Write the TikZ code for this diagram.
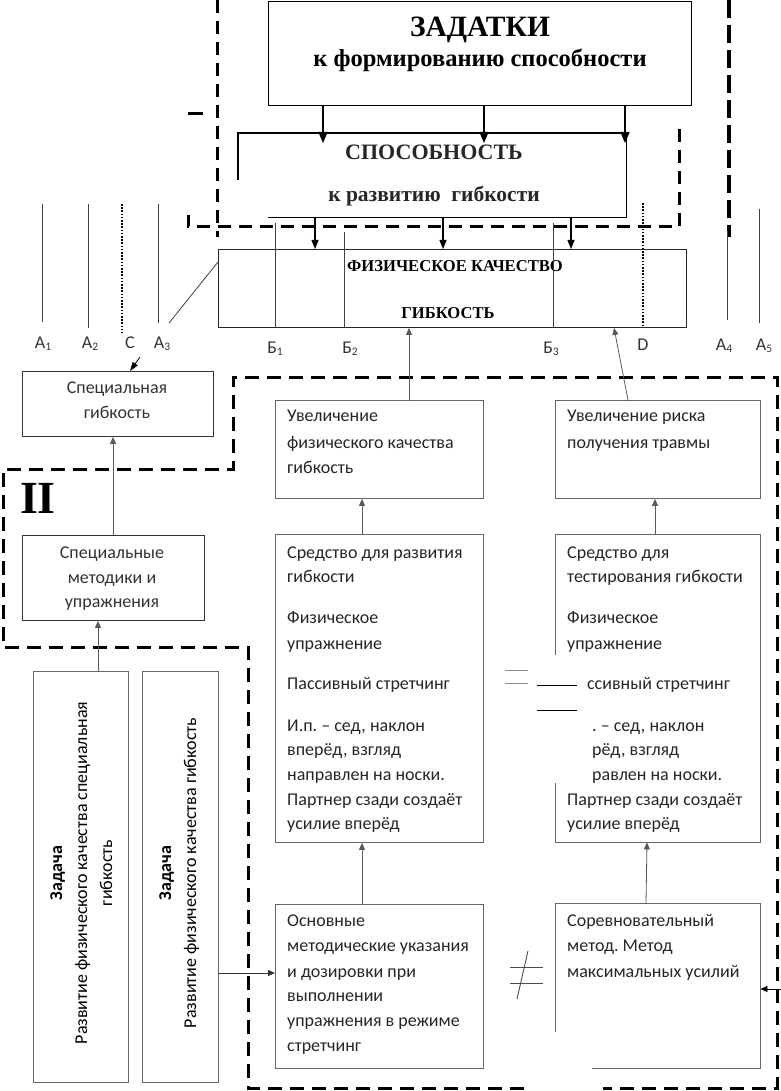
\documentclass[tikz,border=0pt]{standalone}
\usepackage{fontspec}
\setmainfont{Carlito}
\newfontfamily\tnr{Liberation Serif}
\usetikzlibrary{arrows.meta}
\frenchspacing
\newcommand\Ln[4]{\node[txt,anchor=base west] (#1) at (#2,#3) {#4};}
\newcommand\sbs[1]{\raisebox{-2.5pt}{\fontsize{11.5}{12}\selectfont #1}}
\begin{document}
\begin{tikzpicture}[x=1pt,y=-1pt,
 box/.style={draw=black!60, line width=0.9pt, inner sep=0pt},
 tbox/.style={draw=black, line width=1.3pt, inner sep=0pt},
 txt/.style={inner sep=0pt, font=\fontsize{18}{21}\selectfont\frenchspacing, text=black!85},
 lbl/.style={inner sep=0pt, anchor=base, font=\fontsize{18}{21}\selectfont, text=black!80},
 bigdash/.style={line width=3pt, dash pattern=on 13pt off 8pt},
 dots/.style={line width=2pt, dash pattern=on 1.6pt off 1.6pt},
 thinl/.style={draw=black!75, line width=0.8pt},
 arr/.style={-{Triangle[length=7pt,width=6pt]}, draw=black!65, line width=0.8pt},
 barr/.style={-{Triangle[length=11pt,width=9pt]}, line width=1.3pt},
 marr/.style={-{Triangle[length=9pt,width=7pt]}, line width=1.1pt},
]
\useasboundingbox (0,0) rectangle (780,1091);

% ---------- dashed region I ----------
\draw[bigdash] (217,0) -- (217,237);
\draw[bigdash] (188,215) -- (188,227) -- (679,227) -- (679,128);
\draw[line width=3pt] (188,114) -- (203,114);
\draw[line width=4pt, dash pattern=on 18pt off 7pt] (729,0) -- (729,237);

% ---------- dashed region II ----------
\draw[line width=3pt, dash pattern=on 14pt off 8pt]
  (524,1088) -- (248,1088) -- (248,647) -- (3,647) -- (3,469) -- (233,469)
  -- (233,377) -- (777,377) -- (777,1088) -- (603,1088);

% ---------- top boxes ----------
\node[tbox, anchor=north west, minimum width=423pt, minimum height=104pt] (zad) at (268,1) {};
\node[anchor=north west, minimum width=388pt, minimum height=84pt, inner sep=0pt] (spos) at (238,133) {};
\draw[line width=1.1pt] (238,180) -- (spos.north west) -- (spos.north east) -- (spos.south east) -- (268,0 |- spos.south);
\node[box, draw=black!85, anchor=north west, minimum width=468pt, minimum height=78pt] (fiz) at (218,249) {};

\node[inner sep=0pt, anchor=base, font=\tnr\bfseries\fontsize{29.5}{30}\selectfont] (zt1) at (480,37) {ЗАДАТКИ};
\node[inner sep=0pt, anchor=base, font=\tnr\bfseries\fontsize{24.5}{26}\selectfont] (zt2) at (480,67) {к формированию способности};
\node[inner sep=0pt, anchor=base, font=\tnr\bfseries\fontsize{22}{24}\selectfont, text=black!85] (st1) at (434,160) {СПОСОБНОСТЬ};
\node[inner sep=0pt, anchor=base, font=\tnr\bfseries\fontsize{21.5}{24}\selectfont, text=black!85] (st2) at (434,202) {к развитию\ \ гибкости};
\node[inner sep=0pt, anchor=base, font=\tnr\bfseries\fontsize{16.6}{18}\selectfont] (ft1) at (455,271) {ФИЗИЧЕСКОЕ КАЧЕСТВО};
\node[inner sep=0pt, anchor=base, font=\tnr\bfseries\fontsize{16.6}{18}\selectfont] (ft2) at (448,318) {ГИБКОСТЬ};

% arrows top
\foreach \x in {323,484,625}
  \draw[barr, shorten >=-10pt] (\x,0 |- zad.south) -- (\x,0 |- spos.north);
\foreach \x in {315,443,571}
  \draw[marr] (\x,0 |- spos.south) -- (\x,0 |- fiz.north);

% ---------- vertical marker lines ----------
\draw[thinl] (42,204) -- (42,322);
\draw[thinl] (88,204) -- (88,328);
\draw[dots] (122,204) -- (122,333);
\draw[thinl] (158,204) -- (158,323);
\draw[thinl] (727,231) -- (727,320);
\draw[thinl] (759,209) -- (759,323);
\draw[thinl] (275,223) -- (275,0 |- fiz.south);
\draw[thinl] (344,232) -- (344,0 |- fiz.south);
\draw[thinl] (553,223) -- (553,0 |- fiz.south);
\draw[dots] (643,203) -- (643,327);
\draw[thinl] (fiz.west |- 0,262) -- (169,323);

\node[lbl] (la1) at (43,348) {A\sbs{1}};
\node[lbl] (la2) at (90,348) {A\sbs{2}};
\node[lbl] (lc) at (130,348) {C};
\node[lbl] (la3) at (162,348) {A\sbs{3}};
\node[lbl] (lb1) at (275,353) {Б\sbs{1}};
\node[lbl] (lb2) at (350,353) {Б\sbs{2}};
\node[lbl] (lb3) at (551,353) {Б\sbs{3}};
\node[lbl] (ld) at (643,350) {D};
\node[lbl] (la4) at (724,350) {A\sbs{4}};
\node[lbl] (la5) at (764,350) {A\sbs{5}};

% ---------- left column ----------
\node[box, draw=black!80, anchor=north west, minimum width=191pt, minimum height=65pt] (spg) at (22,371) {};
\node[box, draw=black!80, anchor=north west, minimum width=182pt, minimum height=85pt] (spm) at (22,535) {};
\node[box, anchor=north west, minimum width=95pt, minimum height=411pt] (task1) at (33,671) {};
\node[box, anchor=north west, minimum width=76pt, minimum height=411pt] (task2) at (142,671) {};

\coordinate (cstart) at (140,357);
\draw[arr, -{Triangle[length=9pt,width=6pt]}, draw=black] (cstart) -- (130,0 |- spg.north);
\draw[arr] (113,0 |- spm.north) -- (113,0 |- spg.south);
\draw[arr] (98,0 |- task1.north) -- (98,0 |- spm.south);
\draw[arr, draw=black!80] (task2.east |- 0,973) -- (275,973);

\node[lbl] (sg1) at (117,393) {Специальная};
\node[lbl] (sg2) at (117,418) {гибкость};
\node[lbl] (sm1) at (112,558) {Специальные};
\node[lbl] (sm2) at (112,583) {методики и};
\node[lbl] (sm3) at (112,607) {упражнения};

\node[inner sep=0pt, anchor=base, rotate=90, font=\fontsize{18}{21}\selectfont\bfseries] (t1a) at (62,873) {Задача};
\node[inner sep=0pt, anchor=base, rotate=90, font=\fontsize{18}{21}\selectfont] (t1b) at (87,873) {Развитие физического качества специальная};
\node[inner sep=0pt, anchor=base, rotate=90, font=\fontsize{18}{21}\selectfont] (t1c) at (112,873) {гибкость};
\node[inner sep=0pt, anchor=base, rotate=90, font=\fontsize{18}{21}\selectfont\bfseries] (t2a) at (171,873) {Задача};
\node[inner sep=0pt, anchor=base, rotate=90, font=\fontsize{18}{21}\selectfont] (t2b) at (196,873) {Развитие физического качества гибкость};

\node[inner sep=0pt, anchor=base, font=\tnr\bfseries\fontsize{46}{46}\selectfont] (two) at (38,513) {II};

% ---------- middle / right columns ----------
\node[box, anchor=north west, minimum width=208pt, minimum height=98pt] (uv1) at (275,400) {};
\node[box, anchor=north west, minimum width=205pt, minimum height=98pt] (uv2) at (555,400) {};
\node[box, anchor=north west, minimum width=208pt, minimum height=308pt] (sr1) at (275,534) {};
\node[anchor=north west, minimum width=205pt, minimum height=308pt, inner sep=0pt] (sr2) at (555,534) {};
\draw[draw=black!60, line width=0.9pt] (555,655) -- (sr2.north west) -- (sr2.north east) -- (sr2.south east) -- (sr2.south west) -- (555,783);
\node[box, anchor=north west, minimum width=208pt, minimum height=164pt] (os) at (275,904) {};
\node[anchor=north west, minimum width=205pt, minimum height=165pt, inner sep=0pt] (sor) at (555,903) {};
\draw[draw=black!60, line width=0.9pt] (555,1032) -- (sor.north west) -- (sor.north east) -- (sor.south east) -- (592,0 |- sor.south);

\draw[arr] (409,0 |- uv1.north) -- (409,0 |- fiz.south);
\draw[arr] (628,0 |- uv2.north) -- (614,0 |- fiz.south);
\draw[arr] (362,0 |- sr1.north) -- (362,0 |- uv1.south);
\draw[arr] (655,0 |- sr2.north) -- (655,0 |- uv2.south);
\draw[arr] (362,0 |- os.north) -- (362,0 |- sr1.south);
\draw[arr] (646,0 |- sor.north) -- (647,0 |- sr2.south);
\coordinate (redge) at (781,989);
\draw[arr, draw=black] (redge) -- (sor.east |- redge);

% not-equal sign and stray strokes
\draw[draw=black!70, line width=0.9pt] (510,967) -- (543,967);
\draw[draw=black!70, line width=0.9pt] (510,983) -- (543,983);
\draw[draw=black!70, line width=0.9pt] (528,951) -- (517,999);
\draw[draw=black!45, line width=1pt] (505,670) -- (528,670);
\draw[draw=black!45, line width=1pt] (505,683) -- (528,683);
\draw[line width=1pt] (537,685) -- (577,685);
\draw[line width=1pt] (537,710) -- (577,710);

% texts
\Ln{u11}{287}{421}{Увеличение}
\Ln{u12}{287}{448}{физического качества}
\Ln{u13}{287}{473}{гибкость}
\Ln{u21}{567}{421}{Увеличение риска}
\Ln{u22}{567}{448}{получения травмы}

\Ln{s11}{287}{558}{Средство для развития}
\Ln{s12}{287}{582}{гибкости}
\Ln{s13}{287}{623}{Физическое}
\Ln{s14}{287}{649}{упражнение}
\Ln{s15}{287}{689}{Пассивный стретчинг}
\Ln{s16}{287}{731}{И.п. – сед, наклон}
\Ln{s17}{287}{755}{вперёд, взгляд}
\Ln{s18}{287}{780}{направлен на носки.}
\Ln{s19}{287}{805}{Партнер сзади создаёт}
\Ln{s10}{287}{829}{усилие вперёд}

\Ln{s21}{567}{558}{Средство для}
\Ln{s22}{567}{582}{тестирования гибкости}
\Ln{s23}{567}{623}{Физическое}
\Ln{s24}{567}{649}{упражнение}
\Ln{s25}{587}{689}{ссивный стретчинг}
\Ln{s26}{592}{731}{. – сед, наклон}
\Ln{s27}{592}{755}{рёд, взгляд}
\Ln{s28}{592}{780}{равлен на носки.}
\Ln{s29}{567}{805}{Партнер сзади создаёт}
\Ln{s20}{567}{829}{усилие вперёд}

\Ln{o1}{287}{926}{Основные}
\Ln{o2}{287}{951}{методические указания}
\Ln{o3}{287}{977}{и дозировки при}
\Ln{o4}{287}{1001}{выполнении}
\Ln{o5}{287}{1026}{упражнения в режиме}
\Ln{o6}{287}{1051}{стретчинг}

\Ln{c1}{567}{926}{Соревновательный}
\Ln{c2}{567}{951}{метод. Метод}
\Ln{c3}{567}{977}{максимальных усилий}
\end{tikzpicture}
\end{document}
